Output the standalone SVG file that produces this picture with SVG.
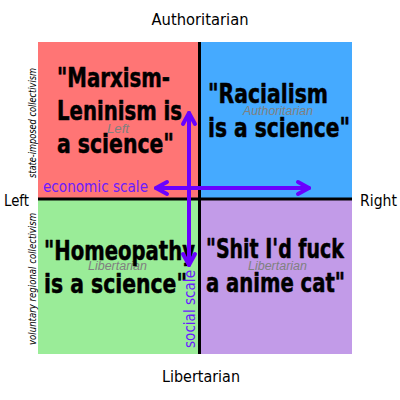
<svg xmlns="http://www.w3.org/2000/svg" width="400" height="400" viewBox="0 0 400 400">
<style>
.axis{font-family:"DejaVu Sans","Liberation Sans",sans-serif;font-size:15px;fill:#000}
.side{font-family:"DejaVu Sans","Liberation Sans",sans-serif;font-size:10px;fill:#000;font-style:italic}
.big{font-family:"Liberation Sans Narrow","DejaVu Sans Condensed","Liberation Sans",sans-serif;font-weight:bold;font-size:27px;fill:#000;stroke:#000;stroke-width:0.5;stroke-linejoin:round}
.ghost{font-family:"Liberation Sans","DejaVu Sans",sans-serif;font-style:italic;font-size:12px;fill:#808080}
.scale{font-family:"DejaVu Sans","Liberation Sans",sans-serif;font-size:15px;fill:#6a1bff}
.arr{fill:none;stroke:#6a00ff;stroke-width:4;stroke-linecap:round;stroke-linejoin:round}
</style>
<rect width="400" height="400" fill="#fff"/>
<g id="q-authleft"><rect x="38" y="42" width="162" height="157" fill="#ff7575"/>
<text class="ghost" x="107" y="133" textLength="22" lengthAdjust="spacingAndGlyphs">Left</text>
<text class="big" x="57" y="87" textLength="113" lengthAdjust="spacingAndGlyphs">"Marxism-</text>
<text class="big" x="57" y="120" textLength="125" lengthAdjust="spacingAndGlyphs">Leninism is</text>
<text class="big" x="57" y="153" textLength="117" lengthAdjust="spacingAndGlyphs">a science"</text></g>
<g id="q-authright"><rect x="200" y="42" width="152" height="157" fill="#45aaff"/>
<text class="ghost" x="243" y="115" textLength="70" lengthAdjust="spacingAndGlyphs">Authoritarian</text>
<text class="big" x="208" y="103" textLength="120" lengthAdjust="spacingAndGlyphs">"Racialism</text>
<text class="big" x="208" y="137" textLength="142" lengthAdjust="spacingAndGlyphs">is a science"</text></g>
<g id="q-libleft"><rect x="38" y="199" width="162" height="155" fill="#9aec98"/>
<text class="ghost" x="88" y="270" textLength="59" lengthAdjust="spacingAndGlyphs">Libertarian</text>
<text class="big" x="44" y="260" textLength="151" lengthAdjust="spacingAndGlyphs">"Homeopathy</text>
<text class="big" x="44" y="293" textLength="143" lengthAdjust="spacingAndGlyphs">is a science"</text></g>
<g id="q-libright"><rect x="200" y="199" width="152" height="155" fill="#c29be8"/>
<text class="ghost" x="248" y="270" textLength="59" lengthAdjust="spacingAndGlyphs">Libertarian</text>
<text class="big" x="206" y="258" textLength="138" lengthAdjust="spacingAndGlyphs">"Shit I'd fuck</text>
<text class="big" x="206" y="292" textLength="139" lengthAdjust="spacingAndGlyphs">a anime cat"</text></g>
<g id="axes">
<line x1="199.5" y1="42" x2="199.5" y2="354" stroke="#000" stroke-width="3"/>
<line x1="38" y1="199" x2="352" y2="199" stroke="#000" stroke-width="3"/>
</g>
<g id="labels">
<text class="axis" x="200" y="25" text-anchor="middle" textLength="97" lengthAdjust="spacingAndGlyphs">Authoritarian</text>
<text class="axis" x="4" y="206" textLength="25" lengthAdjust="spacingAndGlyphs">Left</text>
<text class="axis" x="360" y="206" textLength="37" lengthAdjust="spacingAndGlyphs">Right</text>
<text class="axis" x="201" y="382" text-anchor="middle" textLength="78" lengthAdjust="spacingAndGlyphs">Libertarian</text>
<text class="side" transform="translate(36,178) rotate(-90)" textLength="110" lengthAdjust="spacingAndGlyphs">state-imposed collectivism</text>
<text class="side" transform="translate(36,345) rotate(-90)" textLength="132" lengthAdjust="spacingAndGlyphs">voluntary regional collectivism</text>
</g>
<g id="connectors">
<line class="arr" x1="189" y1="113" x2="189" y2="265"/>
<polyline class="arr" points="183,124 189,113 195,124"/>
<polyline class="arr" points="183,254 189,265 195,254"/>
<line class="arr" x1="156" y1="188" x2="309" y2="188"/>
<polyline class="arr" points="167,182 156,188 167,194"/>
<polyline class="arr" points="298,182 309,188 298,194"/>
<text class="scale" x="43" y="192" textLength="105" lengthAdjust="spacingAndGlyphs">economic scale</text>
<text class="scale" transform="translate(195,348) rotate(-90)" textLength="78" lengthAdjust="spacingAndGlyphs">social scale</text>
</g>
</svg>
